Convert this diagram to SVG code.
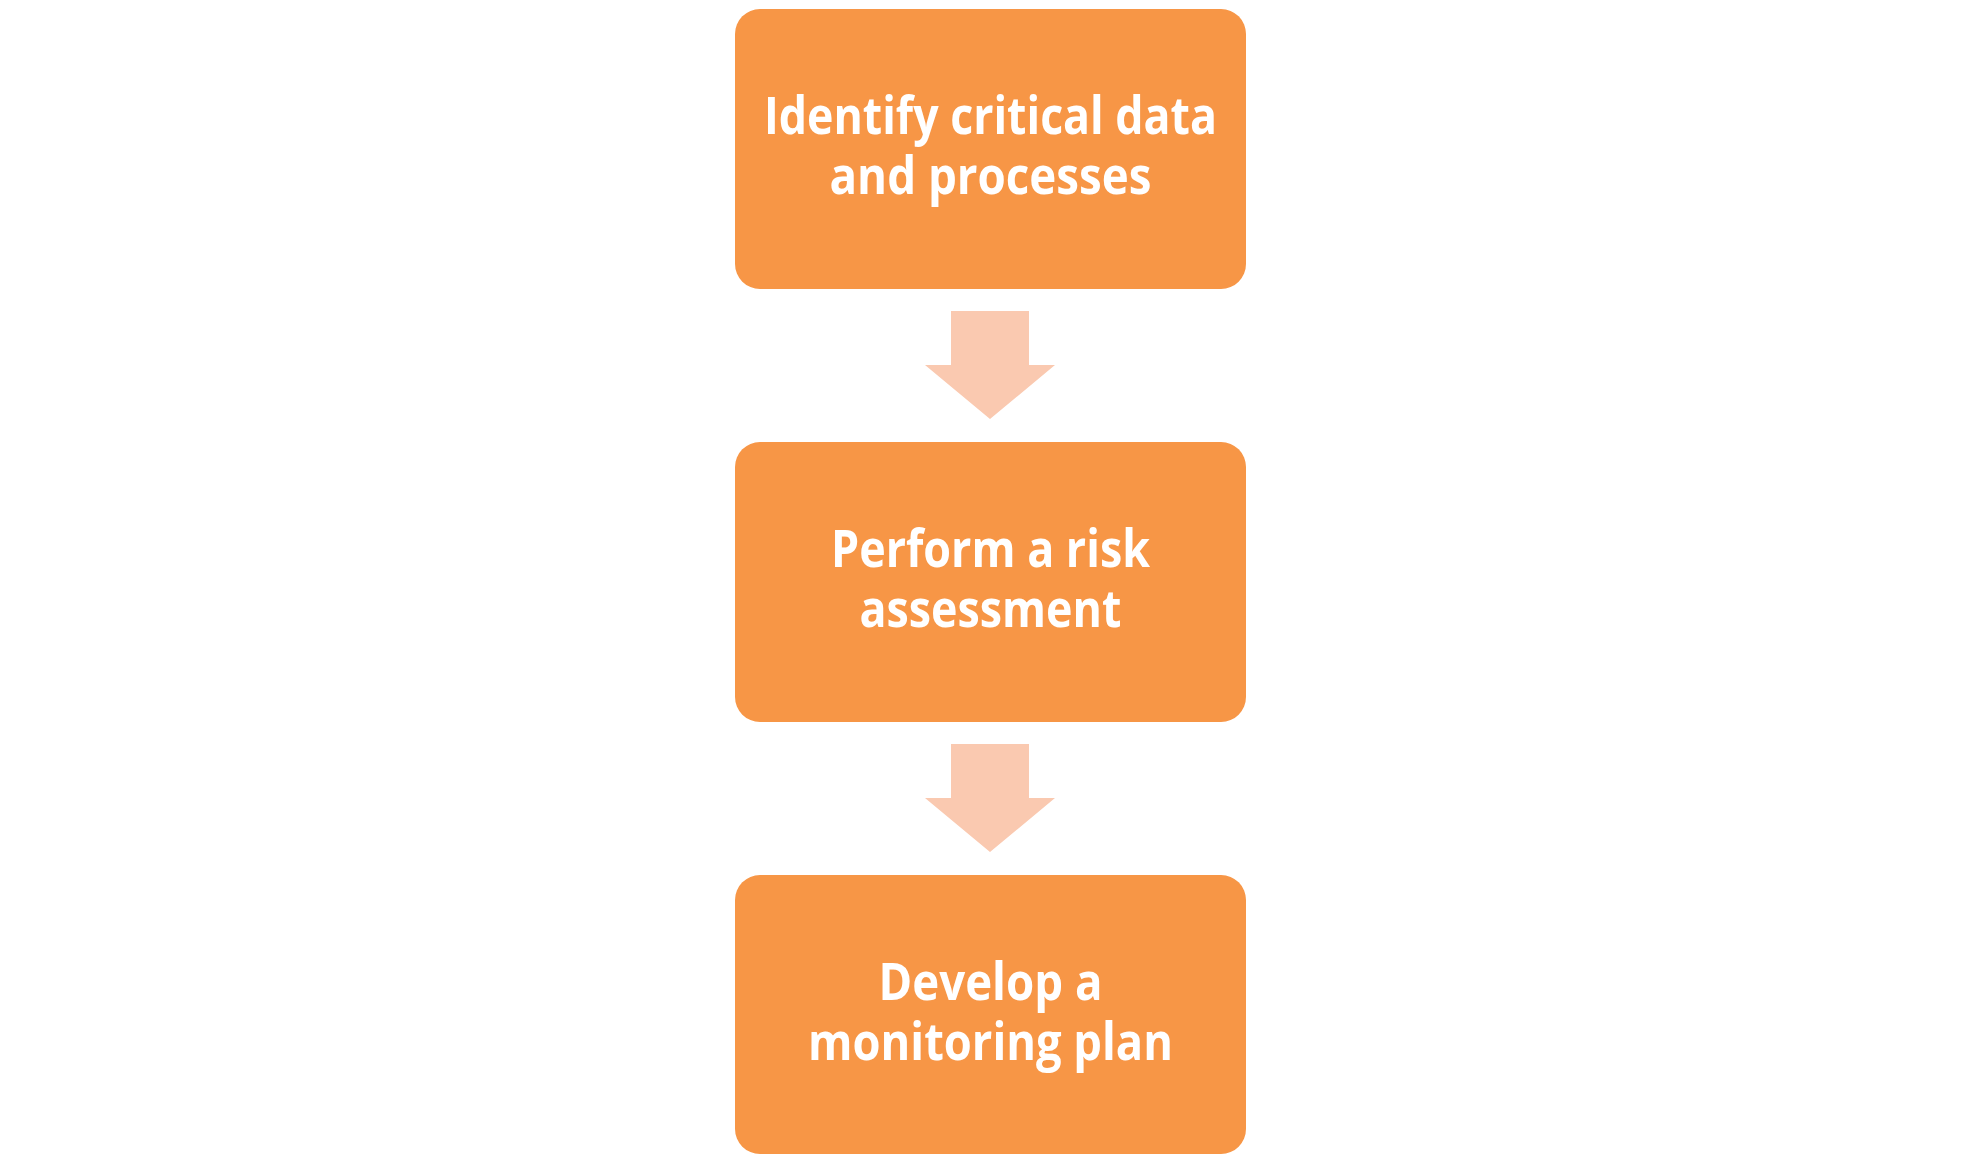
<svg xmlns="http://www.w3.org/2000/svg" width="1980" height="1164" viewBox="0 0 1980 1164">
<style>
.box{fill:#F79646}
.arrow{fill:#FAC9B0}
.lbl{font-family:"Open Sans","Liberation Sans",sans-serif;font-weight:bold;font-size:52px;fill:#FFFFFF;text-anchor:middle}
</style>
<rect width="1980" height="1164" fill="#FFFFFF"/>
<g id="connectors">
<polygon class="arrow" points="951,311 1029,311 1029,365 1055,365 990,419 925,365 951,365"/>
<polygon class="arrow" points="951,744 1029,744 1029,798 1055,798 990,852 925,798 951,798"/>
</g>
<g id="node1">
<rect class="box" x="735" y="9" width="511" height="280" rx="25"/>
<text class="lbl" x="990.5" y="134" textLength="453" lengthAdjust="spacingAndGlyphs">Identify critical data</text>
<text class="lbl" x="990.5" y="194" textLength="322" lengthAdjust="spacingAndGlyphs">and processes</text>
</g>
<g id="node2">
<rect class="box" x="735" y="442" width="511" height="280" rx="25"/>
<text class="lbl" x="990.5" y="567" textLength="319" lengthAdjust="spacingAndGlyphs">Perform a risk</text>
<text class="lbl" x="990.5" y="627" textLength="262" lengthAdjust="spacingAndGlyphs">assessment</text>
</g>
<g id="node3">
<rect class="box" x="735" y="875" width="511" height="279" rx="25"/>
<text class="lbl" x="990.5" y="1000" textLength="224" lengthAdjust="spacingAndGlyphs">Develop a</text>
<text class="lbl" x="990.5" y="1060" textLength="365" lengthAdjust="spacingAndGlyphs">monitoring plan</text>
</g>
</svg>
